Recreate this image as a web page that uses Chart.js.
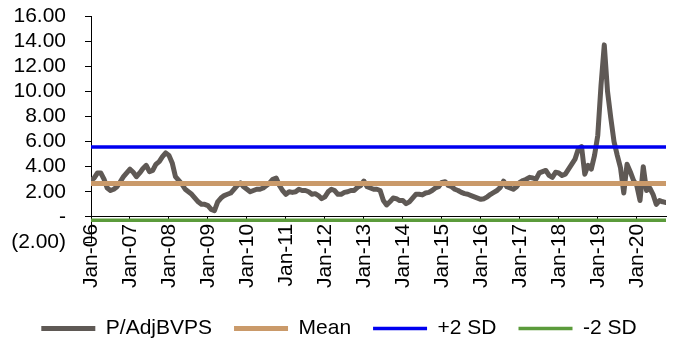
<!DOCTYPE html>
<html>
<head>
<meta charset="utf-8">
<script src="https://cdn.jsdelivr.net/npm/chart.js@4.4.1/dist/chart.umd.min.js"></script>
<style>
html,body{margin:0;padding:0;background:#fff;}
#wrap{width:682px;height:340px;position:relative;}
</style>
</head>
<body>
<div id="wrap"><canvas id="c"></canvas></div>
<script>
// ---- data (monthly, Jan-2006 .. Oct-2020) ----
const seriesNames = ['P/AdjBVPS', 'Mean', '+2 SD', '-2 SD'];
const tickLabels = ['Jan-06','Jan-07','Jan-08','Jan-09','Jan-10','Jan-11','Jan-12','Jan-13','Jan-14','Jan-15','Jan-16','Jan-17','Jan-18','Jan-19','Jan-20'];
const pAdjBvps = [
  2.9, 3.1, 3.5, 3.5, 3.0, 2.3, 2.1, 2.2, 2.4, 2.8, 3.2, 3.5,      // 2006
  3.8, 3.55, 3.2, 3.5, 3.85, 4.1, 3.6, 3.7, 4.2, 4.4, 4.8, 5.1,    // 2007
  4.9, 4.3, 3.2, 2.9, 2.6, 2.2, 2.0, 1.8, 1.5, 1.2, 1.0, 1.0,      // 2008
  0.9, 0.6, 0.5, 1.2, 1.5, 1.7, 1.8, 1.9, 2.2, 2.5, 2.7, 2.4,      // 2009
  2.2, 2.0, 2.1, 2.2, 2.2, 2.3, 2.5, 2.7, 3.0, 3.1, 2.5, 2.1,      // 2010
  1.8, 2.0, 1.95, 2.0, 2.2, 2.1, 2.1, 2.0, 1.8, 1.85, 1.7, 1.45,   // 2011
  1.6, 2.0, 2.2, 2.1, 1.8, 1.8, 1.95, 2.0, 2.1, 2.1, 2.35, 2.5,    // 2012
  2.85, 2.4, 2.3, 2.2, 2.2, 2.1, 1.3, 0.95, 1.2, 1.5, 1.45, 1.3,   // 2013
  1.3, 1.05, 1.2, 1.5, 1.8, 1.8, 1.75, 1.9, 1.95, 2.1, 2.3, 2.4,   // 2014
  2.75, 2.8, 2.5, 2.4, 2.2, 2.1, 1.95, 1.85, 1.8, 1.7, 1.6, 1.5,   // 2015
  1.4, 1.45, 1.6, 1.8, 1.95, 2.1, 2.35, 2.85, 2.4, 2.3, 2.2, 2.4,  // 2016
  2.75, 2.9, 3.0, 3.15, 3.1, 3.0, 3.5, 3.6, 3.7, 3.3, 3.15, 3.55,  // 2017
  3.5, 3.3, 3.4, 3.8, 4.2, 4.6, 5.4, 5.6, 3.4, 4.1, 3.8, 4.9,      // 2018
  6.5, 10.5, 13.7, 10.0, 7.9, 6.0, 4.9, 3.9, 1.9, 4.2, 3.6, 2.9,   // 2019
  2.5, 1.3, 4.0, 2.1, 2.3, 1.8, 1.0, 1.3, 1.2, 1.15                // 2020
];
const meanValue = 2.65;
const plus2Sd = 5.56;
const minus2Sd = -0.26;
const yMin = -2, yMax = 16, yStep = 2;
const monthsPerTick = 12;

// ---- build ----
const lastIdx = pAdjBvps.length - 1;
const seriesPoints = pAdjBvps.map((v, i) => ({x: i, y: v}));
const flat = v => [{x: 0, y: v}, {x: lastIdx, y: v}];

Chart.defaults.font.family = '"Liberation Sans", Arial, sans-serif';
Chart.defaults.font.size = 21;
Chart.defaults.color = '#000';

new Chart(document.getElementById('c'), {
  type: 'line',
  data: {
    datasets: [
      {label: seriesNames[0], data: seriesPoints, borderColor: '#5F5955', backgroundColor: '#5F5955',
       borderWidth: 5, pointRadius: 0, tension: 0, borderJoinStyle: 'round', borderCapStyle: 'round', order: 5},
      {label: seriesNames[1], data: flat(meanValue), borderColor: '#CA9A6A', backgroundColor: '#CA9A6A',
       borderWidth: 5, pointRadius: 0, borderCapStyle: 'round', order: 1},
      {label: seriesNames[2], data: flat(plus2Sd), borderColor: '#0000F0', backgroundColor: '#0000F0',
       borderWidth: 3.5, pointRadius: 0, borderCapStyle: 'round', order: 1},
      {label: seriesNames[3], data: flat(minus2Sd), borderColor: '#5B9B3B', backgroundColor: '#5B9B3B',
       borderWidth: 3.5, pointRadius: 0, borderCapStyle: 'round', order: 1}
    ]
  },
  options: {
    responsive: true,
    maintainAspectRatio: false,
    animation: false,
    devicePixelRatio: 1,
    layout: {padding: {top: 16, right: 16, left: 12, bottom: -9}},
    plugins: {
      tooltip: {enabled: false},
      legend: {
        position: 'bottom',
        labels: {
          usePointStyle: true,
          pointStyle: 'line',
          pointStyleWidth: 54,
          padding: 22,
          color: '#000',
          font: {size: 21},
          sort: (a, b) => a.datasetIndex - b.datasetIndex
        }
      }
    },
    scales: {
      x: {
        type: 'linear',
        position: {y: 0},
        min: 0,
        max: lastIdx,
        ticks: {
          stepSize: monthsPerTick,
          includeBounds: false,
          autoSkip: false,
          maxRotation: 90,
          minRotation: 90,
          padding: 2,
          color: '#000',
          font: {size: 21},
          callback: v => (v % monthsPerTick === 0 ? tickLabels[v / monthsPerTick] : '')
        },
        grid: {drawOnChartArea: false, drawTicks: true, tickLength: 5, color: '#000', lineWidth: 1},
        border: {display: true, color: '#000', width: 1}
      },
      // spacer axis: reserves room under the plot for the rotated labels of the axis drawn at y = 0
      xSpace: {
        type: 'linear',
        position: 'bottom',
        display: true,
        afterFit: s => { s.height = 54; },
        ticks: {display: false},
        grid: {display: false},
        border: {display: false}
      },
      y: {
        min: yMin,
        max: yMax,
        afterFit: s => { s.width = 79; s.paddingTop = 0; s.paddingBottom = 0; },
        ticks: {
          stepSize: yStep,
          autoSkip: false,
          padding: 19,
          color: '#000',
          font: {size: 21},
          callback: v => (v === 0 ? '-' : (v < 0 ? '(' + Math.abs(v).toFixed(2) + ')' : v.toFixed(2)))
        },
        grid: {drawOnChartArea: false, drawTicks: true, tickLength: 6, color: '#000', lineWidth: 1},
        border: {display: true, color: '#000', width: 1}
      }
    }
  }
});
</script>
</body>
</html>
